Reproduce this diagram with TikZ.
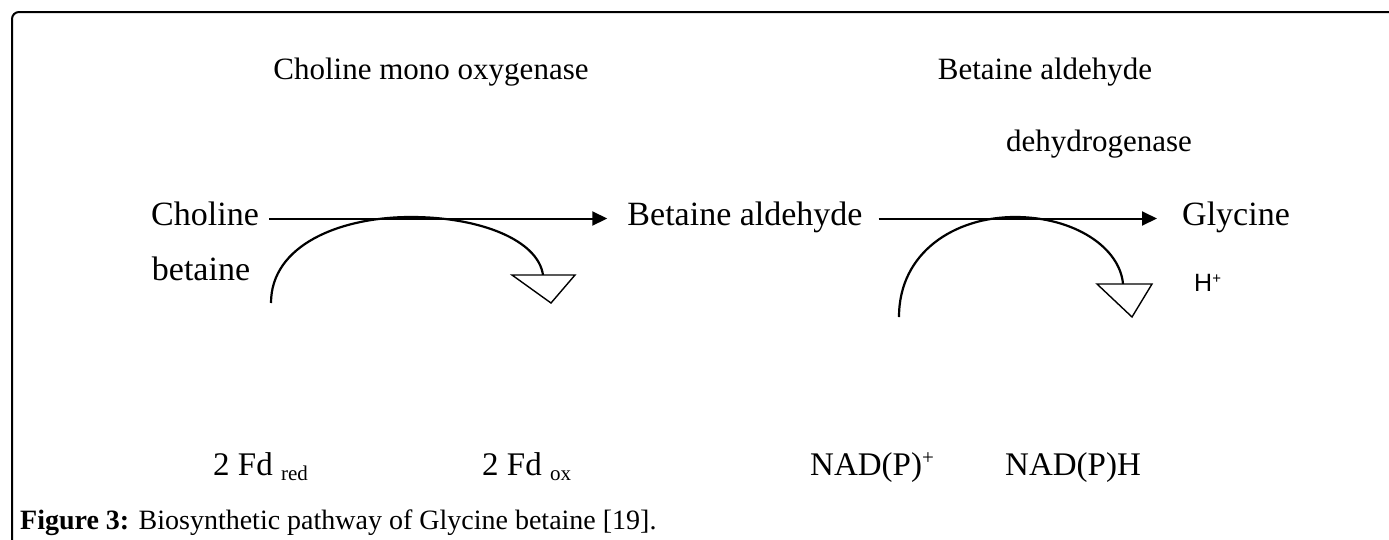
\documentclass[tikz,border=0pt]{standalone}
\usepackage{fontspec}
\setmainfont{Liberation Serif}
\newfontfamily\hsans{Liberation Sans}
\usetikzlibrary{arrows.meta}
\tikzset{
  lbl/.style={inner sep=0pt, anchor=base, font=\fontsize{31}{36}\selectfont},
  mid/.style={inner sep=0pt, anchor=base, font=\fontsize{34}{40}\selectfont, text height=23pt, text depth=0pt},
  bot/.style={inner sep=0pt, anchor=base west, font=\fontsize{33}{40}\selectfont},
  rxn/.style={line width=2pt, -{Triangle[length=15pt,width=14pt]}},
  cof/.style={line width=2.2pt},
  tri/.style={line width=1.4pt, fill=white, line join=miter},
  frame/.style={line width=2pt, rounded corners=7pt}
}
\newcommand{\lowsub}[1]{\raisebox{-5pt}{\fontsize{21}{24}\selectfont #1}}
\begin{document}
\begin{tikzpicture}[x=1pt,y=-1pt]
\useasboundingbox (0,0) rectangle (1389,539);
\draw[frame] (12,560) -- (12,12) -- (1400,12);

% enzyme labels
\node[lbl] (cmo) at (431,79) {Choline mono oxygenase};
\node[lbl] (bald1) at (1045,79) {Betaine aldehyde};
\node[lbl] (bald2) at (1099,151) {dehydrogenase};

% main compounds
\node[mid] (chol) at (205,225) {Choline};
\node[mid] (bet) at (201,280) {betaine};
\node[mid] (betald) at (745,225) {Betaine aldehyde};
\node[mid] (gly) at (1236,225) {Glycine};

\draw[rxn] ([xshift=10pt,yshift=-5pt]chol.east) -- ([xshift=-20pt,yshift=-5pt]betald.west);
\draw[rxn] ([xshift=16pt,yshift=-5pt]betald.east) -- ([xshift=-25pt,yshift=-5pt]gly.west);

% cofactor curve 1
\coordinate (c1s) at (271,303);
\coordinate (c1e) at (543,275);
\coordinate (t1a) at (512,275);
\coordinate (t1b) at (575,275);
\coordinate (t1c) at (551,303);
\draw[cof] (c1s) .. controls (271,245) and (340,217) .. (411,217)
  .. controls (480,217) and (538,240) .. (c1e);
\draw[tri] (t1a) -- (t1b) -- (t1c) -- cycle;

% cofactor curve 2
\coordinate (c2s) at (899,317);
\coordinate (c2e) at (1123,284);
\coordinate (t2a) at (1097,284);
\coordinate (t2b) at (1152,284);
\coordinate (t2c) at (1132,317);
\draw[cof] (c2s) .. controls (899,252) and (955,217) .. (1015,217)
  .. controls (1075,217) and (1120,248) .. (c2e);
\draw[tri] (t2a) -- (t2b) -- (t2c) -- cycle;

\node[inner sep=0pt, anchor=base west, font=\hsans\fontsize{25}{28}\selectfont] (hp) at (1194,291) {H\raisebox{8pt}{\fontsize{15}{17}\selectfont +}};

% bottom row
\node[bot] (fdred) at (213,475) {2 Fd \lowsub{red}};
\node[bot] (fdox) at (482,475) {2 Fd \lowsub{ox}};
\node[bot] (nadp) at (810,475) {NAD(P)\raisebox{11pt}{\fontsize{21}{24}\selectfont +}};
\node[bot] (nadph) at (1005,475) {NAD(P)H};

% caption
\node[inner sep=0pt, anchor=base west, font=\fontsize{28}{32}\selectfont] (cap) at (20,529) {\textbf{Figure 3:} Biosynthetic pathway of Glycine betaine [19].};
\end{tikzpicture}
\end{document}
